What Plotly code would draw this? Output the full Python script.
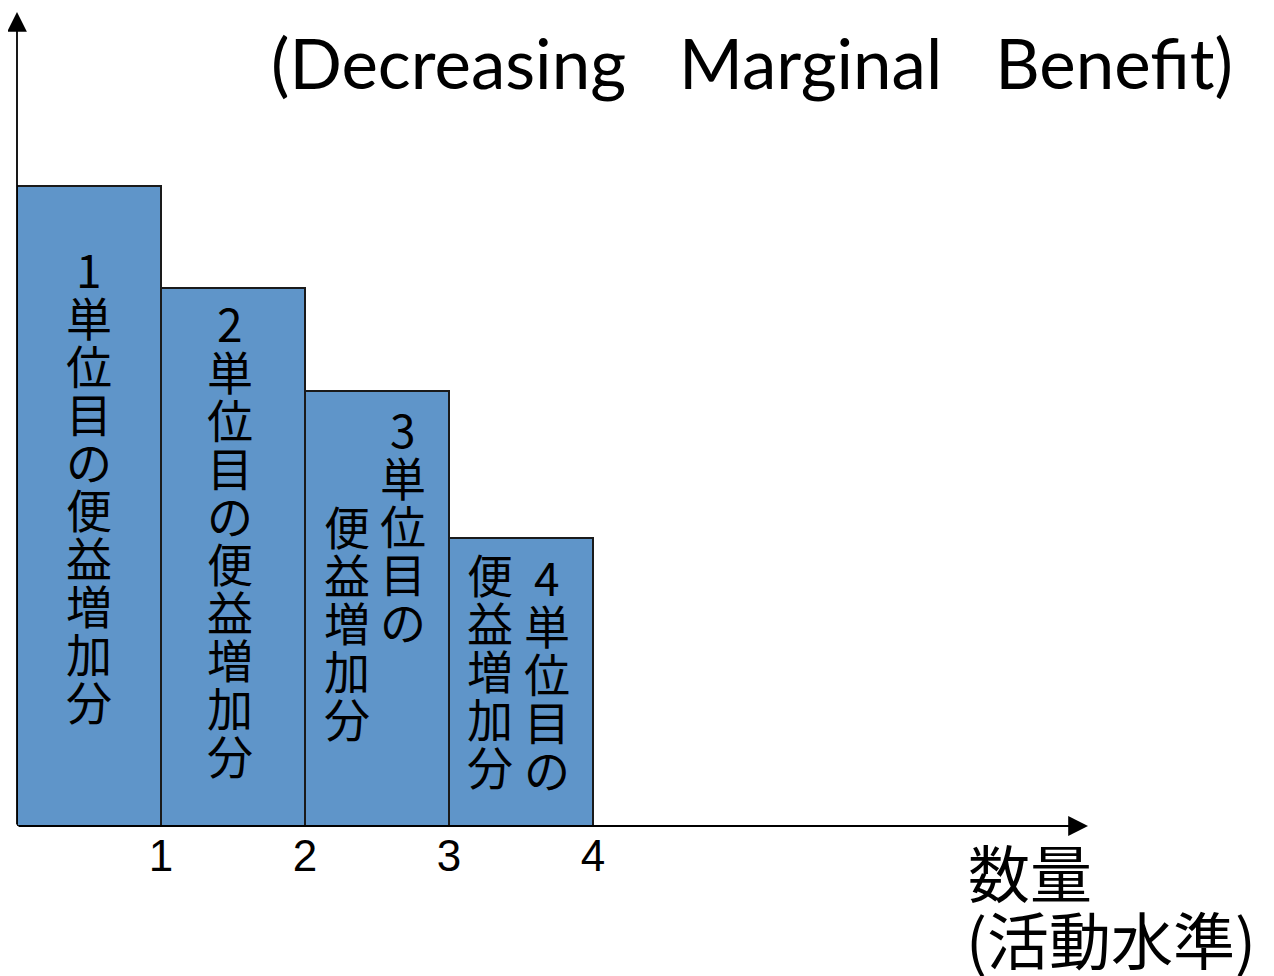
import plotly.graph_objects as go

# ---- data ----
quantities = [1, 2, 3, 4]
marginal_benefit = [100, 84, 68, 45]
tick_labels = ["1", "2", "3", "4"]
bar_labels = [
    ["1単位目の便益増加分"],
    ["2単位目の便益増加分"],
    ["3単位目の", "便益増加分"],
    ["4単位目の", "便益増加分"],
]
title_text = "(Decreasing\u00a0\u00a0\u00a0Marginal\u00a0\u00a0\u00a0Benefit)"
xlabel_lines = ["数量", "(活動水準)"]

# ---- layout constants (pixels, measured in the reference image) ----
OFF = 8                  # page body margin offset of the rendered figure
W, H = 1274, 976
L = 17 - OFF             # y-axis pixel column
BASE = 826 - OFF         # baseline pixel row
B = H - BASE
UNIT_PX = 144            # px per quantity unit
VAL_PX = 6.4             # px per benefit unit

x_max = (W - L) / UNIT_PX
y_max = BASE / VAL_PX


def paper_y(py):
    return (BASE - (py - OFF)) / BASE


def paper_x(px):
    return ((px - OFF) - L) / (W - L)


fig = go.Figure()
fig.add_trace(go.Bar(
    x=[q - 0.5 for q in quantities],
    y=marginal_benefit,
    width=1,
    marker=dict(color="#5F95C9", line=dict(color="#1a1a1a", width=2)),
    hoverinfo="skip",
))

annotations = []
cjk = "Noto Sans CJK JP"

# vertical (tategaki) text inside bars: one annotation per character
col_start = {0: [268], 1: [322], 2: [428, 525], 3: [576, 573]}
col_shift = {0: [0], 1: [-3], 2: [26, -30], 3: [26, -31]}
STEP = 48
for i, cols in enumerate(bar_labels):
    for c, text in enumerate(cols):
        for k, ch in enumerate(text):
            annotations.append(dict(
                x=quantities[i] - 0.5, xref="x",
                y=paper_y(col_start[i][c] + k * STEP), yref="paper",
                xshift=col_shift[i][c],
                text=ch, showarrow=False,
                font=dict(family=cjk, size=46, color="black"),
                xanchor="center", yanchor="middle",
            ))

# axes with arrows
annotations.append(dict(x=(1088 - 17) / UNIT_PX, y=0, ax=0, ay=0, xref="x", yref="y",
                        axref="x", ayref="y", text="", showarrow=True,
                        arrowhead=2, arrowsize=2.2, arrowwidth=1.8, arrowcolor="black"))
annotations.append(dict(x=0, y=(826 - 12) / VAL_PX, ax=0, ay=0, xref="x", yref="y",
                        axref="x", ayref="y", text="", showarrow=True,
                        arrowhead=2, arrowsize=2.2, arrowwidth=1.8, arrowcolor="black"))

# title
annotations.append(dict(x=paper_x(752), y=paper_y(62), xref="paper", yref="paper",
                        text=title_text, showarrow=False,
                        font=dict(family="Lato", size=69, color="black"),
                        xanchor="center", yanchor="middle"))

# x-axis label
annotations.append(dict(x=paper_x(966), y=paper_y(871), xref="paper", yref="paper",
                        text=xlabel_lines[0], showarrow=False,
                        font=dict(family=cjk, size=62, color="black"),
                        xanchor="left", yanchor="middle"))
annotations.append(dict(x=paper_x(964), y=paper_y(938), xref="paper", yref="paper",
                        text=xlabel_lines[1], showarrow=False,
                        font=dict(family=cjk, size=62, color="black"),
                        xanchor="left", yanchor="middle"))

fig.update_layout(
    width=W, height=H,
    margin=dict(l=L, r=0, t=0, b=B, pad=0),
    paper_bgcolor="white", plot_bgcolor="white",
    showlegend=False, bargap=0,
    xaxis=dict(range=[0, x_max], showgrid=False, zeroline=False, showline=False,
               tickvals=quantities, ticktext=tick_labels, ticks="",
               tickfont=dict(family="Liberation Sans", size=44, color="black"),
               fixedrange=True),
    yaxis=dict(range=[0, y_max], showgrid=False, zeroline=False, showline=False,
               showticklabels=False, fixedrange=True),
    annotations=annotations,
)

fig.write_html("out.html", config={"displayModeBar": False})
